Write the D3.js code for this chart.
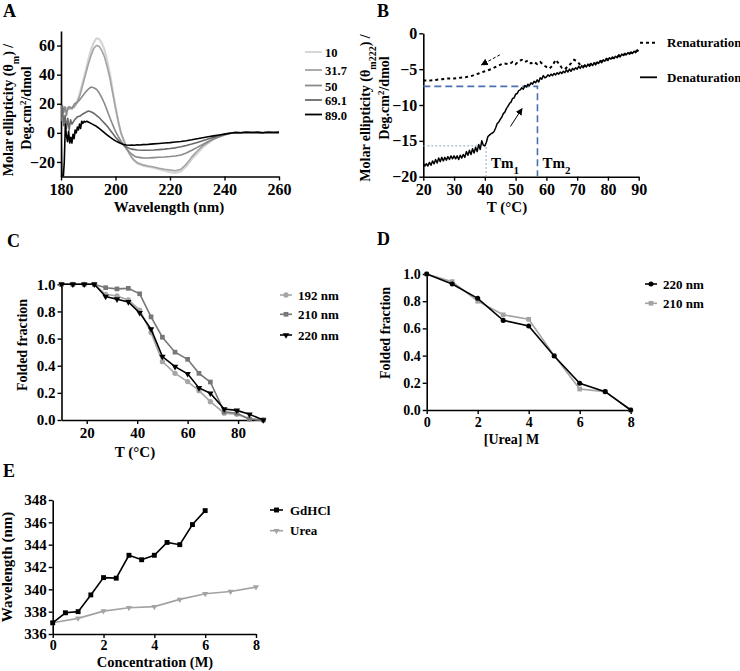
<!DOCTYPE html>
<html><head><meta charset="utf-8">
<script src="https://cdn.jsdelivr.net/npm/d3@7"></script>
<style>
body{margin:0;background:#fff}
svg{display:block}
</style>
</head><body>
<svg id="c" width="740" height="671"></svg>
<script>
// ---------------- DATA ----------------
// Panel A : CD spectra at different temperatures (wavelength nm, ellipticity)
const aLabels = ["10","31.7","50","69.1","89.0"];
const aColors = ["#d4d4d4","#a3a3a3","#8a8a8a","#6a6a6a","#000000"];
const aTail = [[244,0.2],[246,0.1],[248,0.4],[250,0.2],[252,0.3],[254,0.1],[256,0.4],[258,0.2],[260,0.3]];
const a10 = [[180,15],[181,16],[182,17],[183,16.5],[184,17],[185,18.5],[186,22],[187,28],[188,35],[189,42],[190,50],[191,57],[192,62],[193,65],[194,64.5],[195,61.5],[196,57],[197,49],[198,40],[199,29],[200,18],[201,8],[202,0],[203,-5],[204,-10],[205,-14],[206,-17],[207,-19.5],[208,-21],[210,-22.5],[212,-23.3],[214,-24],[216,-25],[218,-26],[220,-27],[222,-27.5],[224,-26.5],[226,-23],[228,-18],[230,-14],[232,-10],[234,-7],[236,-4.5],[238,-2.5],[240,-1],[242,-0.2]];
const a317 = [[180,12],[181,17],[182,15],[183,17],[184,16.5],[185,18],[186,21],[187,26],[188,33],[189,40],[190,47],[191,53],[192,58],[193,60],[194,59.5],[195,56.5],[196,52],[197,45],[198,37],[199,27],[200,17],[201,8],[202,0],[203,-5],[204,-10],[205,-14],[206,-17],[207,-19],[208,-20.5],[210,-22],[212,-22.8],[214,-23.5],[216,-24.3],[218,-25],[220,-25.5],[222,-26],[224,-25],[226,-21.5],[228,-16.5],[230,-12.5],[232,-9],[234,-6.5],[236,-4],[238,-2.2],[240,-0.9],[242,-0.2]];
const a50 = [[180,15],[180.5,19],[181,14],[181.5,18],[182,12],[182.5,17],[183,18],[184,17],[185,20],[186,21],[187,23],[188,25.5],[189,28],[190,30],[191,31.5],[192,31],[193,30],[194,27.5],[195,24],[196,20],[197,15],[198,10],[199,5.5],[200,1],[201,-2.5],[202,-5.5],[203,-8.5],[204,-11],[205,-13],[206,-14.7],[207,-16],[208,-16.7],[210,-17.2],[212,-17.3],[214,-17],[216,-16.8],[218,-16.6],[220,-16.3],[222,-15.9],[224,-15.2],[226,-13.8],[228,-12],[230,-10],[232,-8],[234,-6],[236,-4.3],[238,-2.8],[240,-1.5],[242,-0.4]];
const a691 = [[180,8],[180.5,18],[181,5],[181.5,12],[182,3],[182.5,10],[183,2],[183.5,9],[184,6],[185,9],[186,11],[187,11.5],[188,13],[189,14],[190,15],[191,14.5],[192,13.5],[193,12],[194,10.5],[195,8.5],[196,6.5],[197,4.5],[198,2],[199,-0.5],[200,-3],[201,-5],[202,-6.8],[203,-8.5],[204,-9.7],[205,-10.5],[206,-11.2],[208,-11.8],[210,-12],[212,-12],[214,-11.8],[216,-11.5],[218,-11.2],[220,-10.8],[222,-10.3],[224,-9.6],[226,-8.7],[228,-7.7],[230,-6.6],[232,-5.4],[234,-4.2],[236,-3.1],[238,-2],[240,-1.1],[242,-0.3]];
const a890 = [[180,5],[180.3,-32],[180.8,-32],[181.2,-20],[181.6,6],[182,-2],[182.4,-6],[182.8,1],[183.2,-7],[183.6,-3],[184,-7],[184.4,-1],[184.8,-4],[185.2,2],[185.6,0],[186,4],[186.4,2],[186.8,6],[187.2,3],[187.6,8],[188,6.5],[188.5,8],[189,7.5],[189.5,8],[190,7.5],[191,6.5],[192,5.5],[193,4.5],[194,3],[195,1.5],[196,0],[197,-1.5],[198,-3],[199,-4.3],[200,-5.5],[201,-6.5],[202,-7.3],[203,-8],[204,-8.3],[205,-8.5],[206,-8.3],[207,-8.5],[208,-8.2],[209,-8.4],[210,-8.1],[212,-7.9],[214,-7.6],[216,-7.3],[218,-7],[220,-6.7],[222,-6.3],[224,-5.9],[226,-5.4],[228,-4.8],[230,-4.1],[232,-3.4],[234,-2.7],[236,-2.1],[238,-1.5],[240,-0.9],[242,-0.3]];
const aSeries = [a10,a317,a50,a691,a890];
const aXTicks = [180,200,220,240,260];
const aYTicks = [-20,0,20,40,60];

// Panel B : thermal denaturation / renaturation at 222 nm
const bDenat = [[20,-18.2],[20.5,-18.5],[21,-18.2],[21.5,-18.5],[22,-18.0],[22.5,-18.4],[23,-17.8],[23.5,-18.2],[24,-17.6],[24.5,-18.1],[25,-17.4],[25.5,-17.9],[26,-17.3],[26.5,-17.8],[27,-17.3],[27.5,-17.7],[28,-17.2],[28.5,-17.6],[29,-17.1],[29.5,-17.5],[30,-17.1],[30.5,-17.5],[31,-17.1],[31.5,-17.6],[32,-17.0],[32.5,-17.4],[33,-16.9],[33.5,-17.3],[34,-16.5],[34.5,-17.0],[35,-16.3],[35.5,-16.9],[36,-16.1],[36.5,-16.7],[37,-15.9],[37.5,-16.5],[38,-15.5],[38.5,-16.2],[39,-15.0],[39.5,-15.6],[40,-15.7],[40.5,-15.2],[41,-14.4],[41.5,-14.2],[42,-14.0],[42.5,-13.9],[43,-13.7],[43.5,-13.2],[44,-12.6],[44.5,-12.4],[45,-12.0],[45.5,-11.7],[46,-11.2],[46.5,-11.0],[47,-10.5],[47.5,-10.2],[48,-9.8],[48.5,-9.6],[49,-9.1],[49.5,-9.0],[50,-8.5],[50.5,-8.4],[51,-8.0],[51.5,-7.9],[52,-7.6],[52.5,-7.8],[53,-7.3],[53.5,-7.5],[54,-7.1],[54.5,-7.3],[55,-6.9],[55.5,-7.1],[56,-6.7],[56.5,-6.9],[57,-6.5],[57.5,-6.8],[58,-6.2],[58.5,-6.4],[59,-5.9],[59.5,-6.2],[60,-6.1],[60.5,-5.8],[61,-6.0],[61.5,-5.7],[62,-5.9],[62.5,-5.6],[63,-5.8],[63.5,-5.5],[64,-5.7],[64.5,-5.4],[65,-5.6],[65.5,-5.3],[66,-5.5],[66.5,-5.1],[67,-5.4],[67.5,-5.0],[68,-5.3],[68.5,-4.9],[69,-5.1],[69.5,-4.8],[70,-5.0],[70.5,-4.6],[71,-4.9],[71.5,-4.5],[72,-4.8],[72.5,-4.4],[73,-4.7],[73.5,-4.3],[74,-4.6],[74.5,-4.2],[75,-4.5],[75.5,-4.1],[76,-4.4],[76.5,-4.0],[77,-4.2],[77.5,-3.8],[78,-4.1],[78.5,-3.7],[79,-3.9],[79.5,-3.5],[80,-3.8],[80.5,-3.4],[81,-3.6],[81.5,-3.3],[82,-3.5],[82.5,-3.2],[83,-3.4],[83.5,-3.0],[84,-3.3],[84.5,-2.9],[85,-3.1],[85.5,-2.8],[86,-3.0],[86.5,-2.7],[87,-2.9],[87.5,-2.6],[88,-2.8],[88.5,-2.5],[89,-2.7],[89.5,-2.3],[90,-2.5]];
const bRenat = [[20,-6.6],[22,-6.6],[24,-6.5],[26,-6.4],[28,-6.3],[30,-6.3],[32,-6.2],[34,-6.1],[36,-5.9],[38,-5.6],[40,-5.3],[42,-5.0],[44,-4.6],[46,-4.2],[48,-4.3],[49,-4.0],[50,-4.3],[51,-3.9],[52,-3.7],[53,-4.0],[54,-3.8],[55,-4.2],[56,-4.0],[57,-4.3],[58,-4.0],[59,-4.4],[60,-4.7],[61,-4.9],[62,-4.5],[63,-3.7],[64,-4.2],[65,-4.8],[66,-5.0],[67,-4.6],[68,-4.2],[69,-3.7],[70,-3.9],[71,-4.4],[72,-4.6],[74,-4.4],[76,-4.2],[78,-3.9],[80,-3.6],[82,-3.4],[84,-3.1],[86,-2.9],[88,-2.7],[90,-2.4]];
const bTm1 = [40.4,-15.7];
const bTm2 = [57.1,-7.4];
const bArrowRen = [[44.9,-3.0],[38.9,-4.4]];
const bArrowDen = [[48.3,-13.0],[52.1,-10.5]];
const bXTicks = [20,30,40,50,60,70,80,90];
const bYTicks = [-20,-15,-10,-5,0];

// Panel C : folded fraction vs temperature
const cTemp = [10,14.5,19,23,27.5,32,36.5,41,45.5,50,55,60,64.5,69,74.5,79.5,84.5,90];
const c192 = [1,1,1,1,0.926,0.914,0.885,0.81,0.644,0.43,0.344,0.283,0.216,0.135,0.05,0.042,0.007,0];
const c210 = [1,1,1,1,0.975,0.966,0.97,0.93,0.76,0.61,0.50,0.447,0.344,0.28,0.06,0.05,0.007,0];
const c220 = [1,1,1,1,0.91,0.89,0.87,0.79,0.67,0.467,0.393,0.34,0.236,0.197,0.081,0.071,0.042,0];
const cXTicks = [20,40,60,80];
const fracTicks = [0,0.2,0.4,0.6,0.8,1.0];

// Panel D : folded fraction vs urea
const dUrea = [0,1,2,3,4,5,6,7,8];
const d220 = [1.0,0.926,0.821,0.659,0.618,0.397,0.196,0.135,0];
const d210 = [1.0,0.944,0.80,0.70,0.667,0.40,0.154,0.135,0];
const dXTicks = [0,2,4,6,8];

// Panel E : emission maximum vs denaturant concentration
const eGdConc = [0,0.5,1,1.5,2,2.5,3,3.5,4,4.5,5,5.5,6];
const eGd = [337.0,337.9,338.0,339.5,341.05,341.0,343.05,342.65,343.05,344.2,344.0,345.8,347.05];
const eUreaConc = [0,1,2,3,4,5,6,7,8];
const eUrea = [337.0,337.4,338.05,338.35,338.45,339.1,339.6,339.8,340.2];
const eXTicks = [0,2,4,6,8];
const eYTicks = [336,338,340,342,344,346,348];

// ---------------- DRAW ----------------
const FONT = "Liberation Serif";
const svg = d3.select("#c");
const defs = svg.append("defs");
defs.append("marker").attr("id","ah").attr("viewBox","0 0 10 10").attr("refX",9).attr("refY",5)
  .attr("markerWidth",7).attr("markerHeight",7).attr("orient","auto")
  .append("path").attr("d","M0,0L10,5L0,10Z").attr("fill","#000");

function txt(g,x,y,fs,s){
  return g.append("text").attr("x",x).attr("y",y).attr("font-family",FONT).attr("font-weight","bold")
    .attr("font-size",fs).attr("fill","#000").text(s);
}
function panel(c){
  const g = svg.append("g");
  const x = d3.scaleLinear().domain(c.xd).range(c.xr);
  const y = d3.scaleLinear().domain(c.yd).range(c.yr);
  const ax = g.append("g").attr("transform",`translate(0,${c.yr[0]})`)
    .call(d3.axisBottom(x).tickValues(c.xt).tickSize(4).tickSizeOuter(0).tickPadding(c.xpad||3).tickFormat(c.xf||d3.format("d")));
  const ay = g.append("g").attr("transform",`translate(${c.xr[0]},0)`)
    .call(d3.axisLeft(y).tickValues(c.yt).tickSize(4).tickSizeOuter(0).tickPadding(c.ypad||2).tickFormat(c.yf||d3.format("d")));
  [ax,ay].forEach(a=>{
    a.attr("font-family",FONT).attr("font-size",c.tfs).attr("font-weight","bold");
    a.selectAll("path.domain").attr("stroke","#000").attr("stroke-width",1.6);
    a.selectAll(".tick line").attr("stroke","#000").attr("stroke-width",1.4);
    a.selectAll(".tick text").attr("fill","#000");
  });
  if (c.xfs) ax.attr("font-size",c.xfs);
  return {g,x,y,ax,ay};
}
function ylab(g, xb, yc, fs, build){
  const t = g.append("text").attr("transform",`translate(${xb},${yc}) rotate(-90)`)
    .attr("text-anchor","middle").attr("font-family",FONT).attr("font-weight","bold").attr("font-size",fs).attr("fill","#000");
  build(t);
  return t;
}
function letter(s,x,y){ txt(svg,x,y,18,s); }

// ---- Panel A ----
letter("A",3,17);
{
  const P = panel({xd:[180,260],xr:[61,279],yd:[-30,70],yr:[176.5,31],xt:aXTicks,yt:aYTicks,tfs:16});
  defs.append("clipPath").attr("id","clipA").append("rect").attr("x",61).attr("y",31).attr("width",218).attr("height",145.5);
  const line = d3.line().x(d=>P.x(d[0])).y(d=>P.y(d[1]));
  aSeries.forEach((s,i)=>{
    P.g.append("path").attr("clip-path","url(#clipA)").attr("d",line(s.concat(aTail)))
      .attr("fill","none").attr("stroke",aColors[i]).attr("stroke-width",i===0?2.2:1.6).attr("stroke-linejoin","round");
  });
  const legY = [53,71,86.5,101,115.5];
  aLabels.forEach((s,i)=>{
    P.g.append("line").attr("x1",305).attr("x2",322).attr("y1",legY[i]-1).attr("y2",legY[i]-1).attr("stroke",aColors[i]).attr("stroke-width",1.8);
    txt(P.g,325,legY[i]+4.2,12.5,s);
  });
  txt(P.g,169,212,15,"Wavelength (nm)").attr("text-anchor","middle");
  ylab(P.g,13,110,14,t=>{t.append("tspan").text("Molar ellipticity (θ");t.append("tspan").attr("baseline-shift","sub").attr("font-size",10).text("m");t.append("tspan").text(") /");});
  ylab(P.g,31,108,14,t=>{t.append("tspan").text("Deg.cm");t.append("tspan").attr("baseline-shift","super").attr("font-size",9).text("2");t.append("tspan").text("/dmol");});
}

// ---- Panel B ----
letter("B",377,17);
{
  const P = panel({xd:[20,90],xr:[423.3,638.7],yd:[-20,0],yr:[176.7,33.3],xt:bXTicks,yt:bYTicks,tfs:16});
  const line = d3.line().x(d=>P.x(d[0])).y(d=>P.y(d[1]));
  P.g.append("path").attr("d",line([[20,bTm1[1]],bTm1,[bTm1[0],-20]])).attr("fill","none")
    .attr("stroke","#8ea5c6").attr("stroke-width",1).attr("stroke-dasharray","2,2");
  P.g.append("path").attr("d",line([[20,bTm2[1]],bTm2,[bTm2[0],-20]])).attr("fill","none")
    .attr("stroke","#4a70b0").attr("stroke-width",1.6).attr("stroke-dasharray","7,4");
  P.g.append("path").attr("d",line(bRenat)).attr("fill","none").attr("stroke","#000").attr("stroke-width",2).attr("stroke-dasharray","3,3");
  P.g.append("path").attr("d",line(bDenat)).attr("fill","none").attr("stroke","#000").attr("stroke-width",1.5).attr("stroke-linejoin","round");
  P.g.append("path").attr("d",line(bArrowRen)).attr("stroke","#000").attr("stroke-width",1).attr("stroke-dasharray","3,2").attr("marker-end","url(#ah)");
  P.g.append("path").attr("d",line(bArrowDen)).attr("stroke","#000").attr("stroke-width",1).attr("marker-end","url(#ah)");
  const tm = (t,xx)=>{const e=txt(P.g,xx,168,15,"Tm");e.append("tspan").attr("baseline-shift","sub").attr("font-size",11).text(t);};
  tm("1",P.x(bTm1[0])+5); tm("2",P.x(bTm2[0])+5);
  P.g.append("line").attr("x1",640).attr("x2",657).attr("y1",42.7).attr("y2",42.7).attr("stroke","#000").attr("stroke-width",2).attr("stroke-dasharray","3,3");
  txt(P.g,667,47,13,"Renaturation");
  P.g.append("line").attr("x1",640).attr("x2",657).attr("y1",77.3).attr("y2",77.3).attr("stroke","#000").attr("stroke-width",1.8);
  txt(P.g,667,81.5,13,"Denaturation");
  txt(P.g,507,212,15,"T (°C)").attr("text-anchor","middle");
  ylab(P.g,370,108,14,t=>{t.append("tspan").text("Molar ellipticity (θ");t.append("tspan").attr("baseline-shift","sub").attr("font-size",10).text("m222");t.append("tspan").text(") /");});
  ylab(P.g,389,98,14,t=>{t.append("tspan").text("Deg.cm");t.append("tspan").attr("baseline-shift","super").attr("font-size",9).text("2");t.append("tspan").text("/dmol");});
}

// ---- Panel C ----
letter("C",7,247);
{
  const P = panel({xd:[10,90],xr:[61.5,263.3],yd:[0,1],yr:[420,284.3],xt:cXTicks,yt:fracTicks,yf:d3.format(".1f"),tfs:15});
  const ser = [
    {v:c192,col:"#a6a6a6",s:d3.symbolCircle,sz:22,rot:0,lab:"192 nm"},
    {v:c210,col:"#777777",s:d3.symbolSquare,sz:22,rot:0,lab:"210 nm"},
    {v:c220,col:"#000000",s:d3.symbolTriangle,sz:18,rot:180,lab:"220 nm"}];
  const legY=[295,314.3,335];
  ser.forEach((S,k)=>{
    const pts = cTemp.map((t,i)=>[t,S.v[i]]);
    P.g.append("path").attr("d",d3.line().x(d=>P.x(d[0])).y(d=>P.y(d[1]))(pts)).attr("fill","none").attr("stroke",S.col).attr("stroke-width",1.6);
    P.g.selectAll(null).data(pts).join("path").attr("d",d3.symbol().type(S.s).size(S.sz))
      .attr("transform",d=>`translate(${P.x(d[0])},${P.y(d[1])}) rotate(${S.rot})`).attr("fill",S.col);
    P.g.append("line").attr("x1",280).attr("x2",292).attr("y1",legY[k]).attr("y2",legY[k]).attr("stroke",S.col).attr("stroke-width",1.6);
    P.g.append("path").attr("d",d3.symbol().type(S.s).size(S.sz)).attr("transform",`translate(286,${legY[k]}) rotate(${S.rot})`).attr("fill",S.col);
    txt(P.g,298,legY[k]+4.5,13,S.lab);
  });
  txt(P.g,135,457,15,"T (°C)").attr("text-anchor","middle");
  ylab(P.g,26.5,345,14,t=>t.text("Folded fraction"));
}

// ---- Panel D ----
letter("D",377,245);
{
  const P = panel({xd:[0,8],xr:[426.7,630.7],yd:[0,1],yr:[410,274],xt:dXTicks,yt:fracTicks,yf:d3.format(".1f"),tfs:14});
  const ser = [
    {v:d210,col:"#a3a3a3",s:d3.symbolSquare,sz:22,lab:"210 nm",ly:303.3},
    {v:d220,col:"#000000",s:d3.symbolCircle,sz:20,lab:"220 nm",ly:284}];
  ser.forEach(S=>{
    const pts = dUrea.map((t,i)=>[t,S.v[i]]);
    P.g.append("path").attr("d",d3.line().x(d=>P.x(d[0])).y(d=>P.y(d[1]))(pts)).attr("fill","none").attr("stroke",S.col).attr("stroke-width",1.6);
    P.g.selectAll(null).data(pts).join("path").attr("d",d3.symbol().type(S.s).size(S.sz))
      .attr("transform",d=>`translate(${P.x(d[0])},${P.y(d[1])})`).attr("fill",S.col);
    P.g.append("line").attr("x1",645).attr("x2",657).attr("y1",S.ly).attr("y2",S.ly).attr("stroke",S.col).attr("stroke-width",1.6);
    P.g.append("path").attr("d",d3.symbol().type(S.s).size(S.sz)).attr("transform",`translate(651,${S.ly})`).attr("fill",S.col);
    txt(P.g,663,S.ly+4.5,13,S.lab);
  });
  txt(P.g,511.5,444,14,"[Urea] M").attr("text-anchor","middle");
  ylab(P.g,390,333,14,t=>t.text("Folded fraction"));
}

// ---- Panel E ----
letter("E",3,477);
{
  const P = panel({xd:[0,8],xr:[52.7,256],yd:[336,348],yr:[634,500],xt:eXTicks,yt:eYTicks,tfs:15,xfs:14,xpad:2});
  const ser = [
    {c:eUreaConc,v:eUrea,col:"#a3a3a3",s:d3.symbolTriangle,sz:16,rot:180,lab:"Urea",ly:530.7},
    {c:eGdConc,v:eGd,col:"#000000",s:d3.symbolSquare,sz:24,rot:0,lab:"GdHCl",ly:510}];
  ser.forEach(S=>{
    const pts = S.c.map((t,i)=>[t,S.v[i]]);
    P.g.append("path").attr("d",d3.line().x(d=>P.x(d[0])).y(d=>P.y(d[1]))(pts)).attr("fill","none").attr("stroke",S.col).attr("stroke-width",1.6);
    P.g.selectAll(null).data(pts).join("path").attr("d",d3.symbol().type(S.s).size(S.sz))
      .attr("transform",d=>`translate(${P.x(d[0])},${P.y(d[1])}) rotate(${S.rot})`).attr("fill",S.col);
    P.g.append("line").attr("x1",270).attr("x2",283).attr("y1",S.ly).attr("y2",S.ly).attr("stroke",S.col).attr("stroke-width",1.6);
    P.g.append("path").attr("d",d3.symbol().type(S.s).size(S.sz)).attr("transform",`translate(276.5,${S.ly}) rotate(${S.rot})`).attr("fill",S.col);
    txt(P.g,290,S.ly+4.5,13,S.lab);
  });
  txt(P.g,155,667,14.5,"Concentration (M)").attr("text-anchor","middle");
  ylab(P.g,12,567,15,t=>t.text("Wavelength (nm)"));
}
</script>
</body></html>
